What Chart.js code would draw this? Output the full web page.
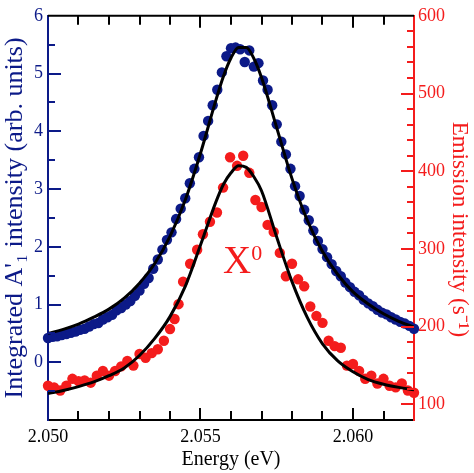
<!DOCTYPE html>
<html>
<head>
<meta charset="utf-8">
<script src="https://cdn.jsdelivr.net/npm/chart.js@4.4.1/dist/chart.umd.min.js"></script>
<style>
  html, body { margin: 0; padding: 0; background: #fff; }
</style>
</head>
<body>
<canvas id="chart" width="474" height="473"></canvas>
<script>
// A'1 band: integrated intensity (left axis)
const blueEnergy = [
  2.05000, 2.05015, 2.05030, 2.05045, 2.05060, 2.05075, 2.05090, 2.05105, 2.05120, 2.05135,
  2.05150, 2.05165, 2.05180, 2.05195, 2.05210, 2.05225, 2.05240, 2.05255, 2.05270, 2.05285,
  2.05300, 2.05315, 2.05330, 2.05345, 2.05360, 2.05375, 2.05390, 2.05405, 2.05420, 2.05435,
  2.05450, 2.05465, 2.05480, 2.05495, 2.05510, 2.05525, 2.05540, 2.05555, 2.05570, 2.05585,
  2.05600, 2.05615, 2.05630, 2.05645, 2.05660, 2.05675, 2.05690, 2.05705, 2.05720, 2.05735,
  2.05750, 2.05765, 2.05780, 2.05795, 2.05810, 2.05825, 2.05840, 2.05855, 2.05870, 2.05885,
  2.05900, 2.05915, 2.05930, 2.05945, 2.05960, 2.05975, 2.05990, 2.06005, 2.06020, 2.06035,
  2.06050, 2.06065, 2.06080, 2.06095, 2.06110, 2.06125, 2.06140, 2.06155, 2.06170, 2.06185,
  2.06200
];
const blueIntensity = [
  0.42, 0.44, 0.45, 0.47, 0.49, 0.51, 0.53, 0.56, 0.58, 0.62,
  0.66, 0.68, 0.74, 0.78, 0.82, 0.90, 0.94, 1.00, 1.06, 1.15,
  1.24, 1.36, 1.46, 1.62, 1.78, 1.95, 2.12, 2.25, 2.48, 2.66,
  2.84, 3.10, 3.35, 3.55, 3.92, 4.18, 4.45, 4.72, 5.02, 5.30,
  5.44, 5.45, 5.42, 5.20, 5.40, 5.12, 5.18, 4.88, 4.72, 4.45,
  4.12, 3.82, 3.60, 3.35, 3.05, 2.88, 2.64, 2.46, 2.28, 2.10,
  1.96, 1.82, 1.70, 1.58, 1.49, 1.38, 1.30, 1.22, 1.16, 1.08,
  1.02, 0.97, 0.91, 0.86, 0.83, 0.78, 0.74, 0.70, 0.67, 0.63,
  0.58
];

// X0 emission (right axis, s^-1)
const redEnergy = [
  2.0500, 2.0502, 2.0504, 2.0506, 2.0508, 2.0510, 2.0512, 2.0514, 2.0516, 2.0518,
  2.0520, 2.0522, 2.0524, 2.0526, 2.0528, 2.0530, 2.0532, 2.0534, 2.0536, 2.0538,
  2.0540, 2.05415, 2.05428, 2.05443, 2.05466, 2.05489, 2.05508, 2.05531, 2.05554, 2.05574,
  2.05597, 2.0562, 2.0564, 2.0566, 2.0568, 2.0570, 2.0572, 2.0574, 2.0576, 2.0578,
  2.0580, 2.0582, 2.0584, 2.0586, 2.0588, 2.0590, 2.0592, 2.0594, 2.0596, 2.0598,
  2.0600, 2.0602, 2.0604, 2.0606, 2.0608, 2.0610, 2.0612, 2.0614, 2.0616, 2.0618,
  2.0620
];
const redIntensity = [
  124, 122, 118, 124, 133, 130, 131, 128, 137, 143,
  137, 143, 149, 156, 150, 165, 160, 166, 171, 182,
  197, 210, 229, 258, 281, 299, 319, 335, 347, 379,
  418, 407, 420, 398, 363, 354, 331, 322, 295, 265,
  281, 261, 252, 226, 214, 205, 182, 175, 173, 150,
  152, 143, 133, 137, 127, 133, 124, 122, 127, 118,
  115
];

// fitted curves
const fitEnergy = [
  2.0500, 2.0505, 2.0510, 2.0515, 2.0520, 2.0525, 2.0530, 2.0535, 2.0540, 2.0545,
  2.0550, 2.0555, 2.05575, 2.0560, 2.05625, 2.0565, 2.05675, 2.0570, 2.0575, 2.0580,
  2.0585, 2.0590, 2.0595, 2.0600, 2.0605, 2.0610, 2.0615, 2.0620
];
const blueFit = [
  0.50, 0.57, 0.66, 0.78, 0.92, 1.11, 1.37, 1.71, 2.18, 2.81,
  3.62, 4.53, 4.95, 5.27, 5.45, 5.45, 5.26, 4.93, 4.06, 3.18,
  2.46, 1.92, 1.52, 1.22, 1.01, 0.84, 0.71, 0.61
];
const redFit = [
  114, 118, 123, 129, 137, 147, 163, 185, 213, 252,
  305, 360, 383, 398, 407, 405, 393, 375, 315, 258,
  212, 178, 156, 142, 132, 126, 122, 119
];

// tick labels
const energyTicks = [2.050, 2.055, 2.060];
const leftTicks = [0, 1, 2, 3, 4, 5, 6];
const rightTicks = [100, 200, 300, 400, 500, 600];

const NAVY = '#0c1a88';
const RED = '#f41c1c';
const SERIF = "'Liberation Serif', 'Times New Roman', serif";

function pairs(xs, ys) {
  return xs.map((x, i) => ({ x: x, y: ys[i] }));
}

// inward tick marks on all four sides + top frame line
const frameTicks = {
  id: 'frameTicks',
  afterDraw(chart) {
    const { ctx, chartArea: a, scales } = chart;
    const x = scales.x, yl = scales.y, yr = scales.y1;
    ctx.save();
    ctx.lineWidth = 2;

    ctx.strokeStyle = '#000';
    ctx.beginPath();
    ctx.moveTo(a.left, a.top);
    ctx.lineTo(a.right, a.top);
    for (let i = 1; i <= 11; i++) {
      const px = Math.round(x.getPixelForValue(2.050 + i * 0.001));
      const len = i % 5 === 0 ? 12 : 9;
      ctx.moveTo(px, a.bottom);
      ctx.lineTo(px, a.bottom - len);
      ctx.moveTo(px, a.top);
      ctx.lineTo(px, a.top + len);
    }
    ctx.stroke();

    ctx.strokeStyle = NAVY;
    ctx.beginPath();
    for (let i = -1; i <= 11; i++) {
      const py = Math.round(yl.getPixelForValue(i * 0.5));
      const len = i % 2 === 0 ? 13 : 7;
      ctx.moveTo(a.left, py);
      ctx.lineTo(a.left + len, py);
    }
    ctx.stroke();

    ctx.strokeStyle = RED;
    ctx.beginPath();
    for (let v = 100; v < 600; v += 20) {
      const py = Math.round(yr.getPixelForValue(v));
      const len = v % 100 === 0 ? 13 : 7;
      ctx.moveTo(a.right, py);
      ctx.lineTo(a.right - len, py);
    }
    ctx.stroke();
    ctx.restore();
  }
};

// "X0" label next to the emission peak
const peakLabel = {
  id: 'peakLabel',
  afterDatasetsDraw(chart) {
    const { ctx, scales } = chart;
    const px = scales.x.getPixelForValue(2.05574);
    const py = scales.y.getPixelForValue(1.54);
    ctx.save();
    ctx.fillStyle = RED;
    ctx.textBaseline = 'alphabetic';
    ctx.textAlign = 'left';
    ctx.font = '39px ' + SERIF;
    ctx.fillText('X', px, py);
    const w = ctx.measureText('X').width;
    ctx.font = '22px ' + SERIF;
    ctx.fillText('0', px + w, py - 13);
    ctx.restore();
  }
};

const ctx = document.getElementById('chart').getContext('2d');
new Chart(ctx, {
  type: 'scatter',
  data: {
    datasets: [
      {
        label: "A'1 fit",
        data: pairs(fitEnergy, blueFit),
        yAxisID: 'y',
        showLine: true,
        borderColor: '#000',
        borderWidth: 3,
        pointRadius: 0,
        cubicInterpolationMode: 'monotone',
        order: 0
      },
      {
        label: 'X0 fit',
        data: pairs(fitEnergy, redFit),
        yAxisID: 'y1',
        showLine: true,
        borderColor: '#000',
        borderWidth: 3,
        pointRadius: 0,
        cubicInterpolationMode: 'monotone',
        order: 0
      },
      {
        label: "A'1",
        data: pairs(blueEnergy, blueIntensity),
        yAxisID: 'y',
        backgroundColor: NAVY,
        borderWidth: 0,
        pointRadius: 5.2,
        clip: false,
        order: 2
      },
      {
        label: 'X0',
        data: pairs(redEnergy, redIntensity),
        yAxisID: 'y1',
        backgroundColor: RED,
        borderWidth: 0,
        pointRadius: 5.2,
        clip: false,
        order: 1
      }
    ]
  },
  options: {
    responsive: false,
    animation: false,
    layout: { padding: { top: 11, left: 0, right: 0, bottom: 0 } },
    plugins: {
      legend: { display: false },
      tooltip: { enabled: false }
    },
    scales: {
      x: {
        type: 'linear',
        position: 'bottom',
        min: 2.050,
        max: 2.062,
        afterBuildTicks: s => { s.ticks = energyTicks.map(v => ({ value: v })); },
        afterFit: s => { s.height = 53; },
        grid: { display: false, drawTicks: false },
        border: { display: true, color: '#000', width: 2 },
        ticks: {
          color: '#000',
          font: { family: SERIF, size: 18 },
          padding: 6,
          maxRotation: 0,
          autoSkip: false,
          callback: v => v.toFixed(3)
        },
        title: {
          display: true,
          text: 'Energy (eV)',
          color: '#000',
          font: { family: SERIF, size: 20 },
          padding: { top: 0, bottom: 1 }
        }
      },
      y: {
        type: 'linear',
        position: 'left',
        min: -1,
        max: 6,
        afterBuildTicks: s => { s.ticks = leftTicks.map(v => ({ value: v })); },
        afterFit: s => { s.width = 48; },
        grid: { display: false, drawTicks: false },
        border: { display: true, color: NAVY, width: 2 },
        ticks: {
          color: NAVY,
          font: { family: SERIF, size: 18 },
          padding: 5
        },
        title: {
          display: true,
          text: "Integrated A'\u2081 intensity (arb. units)",
          color: NAVY,
          font: { family: SERIF, size: 26 },
          padding: { top: 0, bottom: 0 }
        }
      },
      y1: {
        type: 'linear',
        position: 'right',
        min: 80,
        max: 600,
        afterBuildTicks: s => { s.ticks = rightTicks.map(v => ({ value: v })); },
        afterFit: s => { s.width = 60; },
        grid: { display: false, drawTicks: false },
        border: { display: true, color: RED, width: 2 },
        ticks: {
          color: RED,
          font: { family: SERIF, size: 18 },
          padding: 4
        },
        title: {
          display: true,
          text: '\u2003Emission intensity (s\u207B\u00B9)',
          color: RED,
          font: { family: SERIF, size: 23 },
          padding: { top: 1, bottom: 0 }
        }
      }
    }
  },
  plugins: [frameTicks, peakLabel]
});
</script>
</body>
</html>
